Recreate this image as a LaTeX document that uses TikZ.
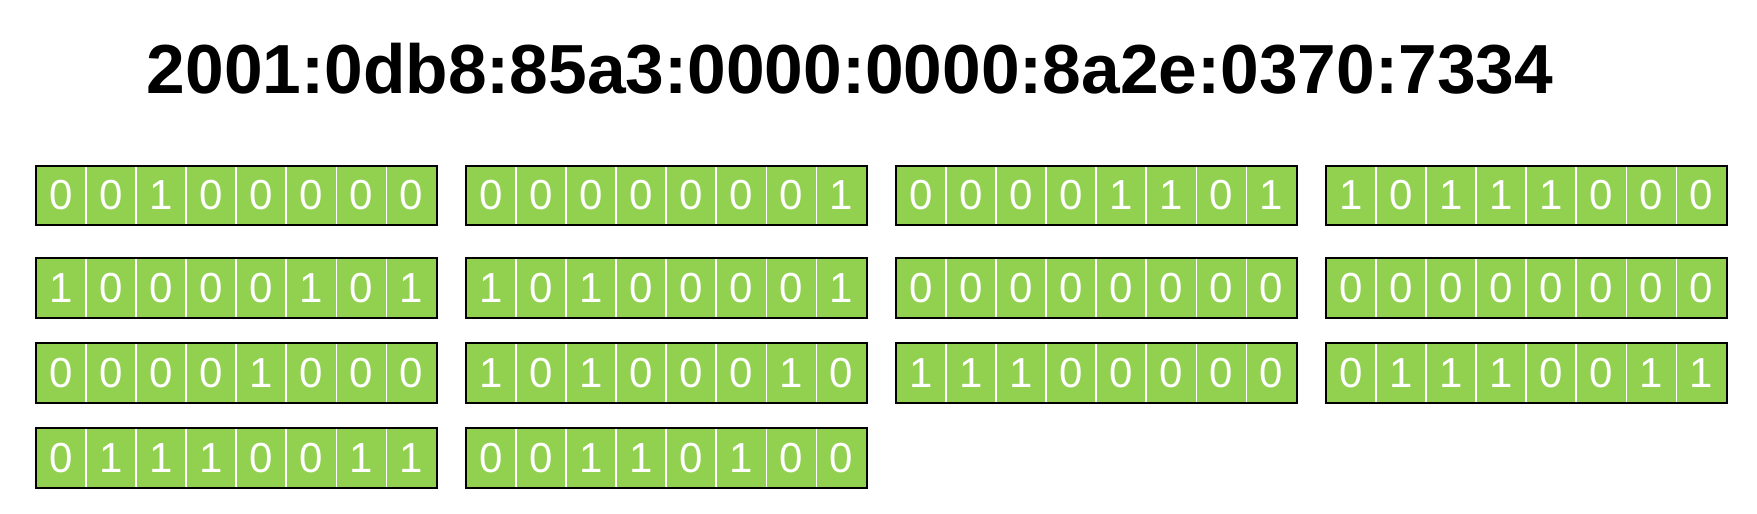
\documentclass[tikz,border=0pt]{standalone}
\usepackage{fontspec}
\setmainfont{Liberation Sans}
\definecolor{bitgreen}{HTML}{92D050}
\begin{document}
\begin{tikzpicture}[x=1pt,y=-1pt,
  titletext/.style={inner sep=0pt, font=\fontsize{69.5}{78}\selectfont\bfseries, text=black},
  cell/.style={draw=white, line width=1.6pt, fill=bitgreen, minimum width=50.1pt, minimum height=59.5pt, inner sep=0pt, text=white, font=\fontsize{42}{44}\selectfont},
  byteframe/.style={draw=black, line width=2.4pt, minimum width=401pt, minimum height=59.5pt, inner sep=0pt}]
\useasboundingbox[fill=white] (0,0) rectangle (1757,514);
\node[titletext] (title) at (850,68.5) {2001:0db8:85a3:0000:0000:8a2e:0370:7334};
\foreach \byte [count=\n from 0] in {
  {0,0,1,0,0,0,0,0},{0,0,0,0,0,0,0,1},{0,0,0,0,1,1,0,1},{1,0,1,1,1,0,0,0},
  {1,0,0,0,0,1,0,1},{1,0,1,0,0,0,0,1},{0,0,0,0,0,0,0,0},{0,0,0,0,0,0,0,0},
  {0,0,0,0,1,0,0,0},{1,0,1,0,0,0,1,0},{1,1,1,0,0,0,0,0},{0,1,1,1,0,0,1,1},
  {0,1,1,1,0,0,1,1},{0,0,1,1,0,1,0,0}} {
  \pgfmathtruncatemacro\r{int(\n/4)}
  \pgfmathtruncatemacro\c{mod(\n,4)}
  \pgfmathsetmacro\yc{{195.5,288,373,458}[\r]}
  \pgfmathsetmacro\xl{35.7+430*\c}
  \foreach \d [count=\k from 0] in \byte {
    \node[cell] (b\n-\k) at ({\xl+50.1*\k+25.05},\yc) {\d};
  }
  \node[byteframe] (byte\n) at ({\xl+200.5},\yc) {};
}
\end{tikzpicture}
\end{document}
